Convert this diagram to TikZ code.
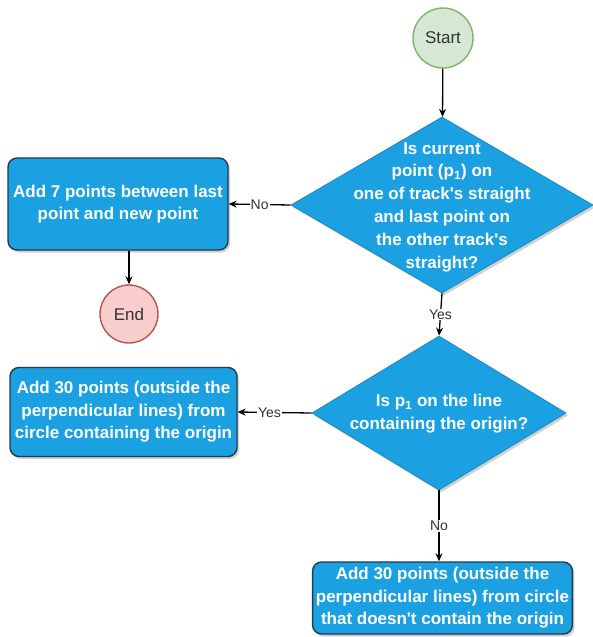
\documentclass[tikz,border=0pt]{standalone}
\usepackage{fontspec}
\setmainfont{Liberation Sans}
\usetikzlibrary{shapes.geometric,arrows.meta,shadows}
\definecolor{procblue}{HTML}{1BA1E2}
\definecolor{procedge}{HTML}{1F3B4D}
\definecolor{startfill}{HTML}{D5E8D4}
\definecolor{startedge}{HTML}{82B366}
\definecolor{endfill}{HTML}{F8CECC}
\definecolor{endedge}{HTML}{B85450}
\definecolor{labeltext}{HTML}{333333}
\tikzset{
  x=1pt, y=-1pt,
  shade/.style={drop shadow={shadow xshift=2pt, shadow yshift=-2.5pt, opacity=0.3, fill=black!60}},
  terminal/.style={circle, line width=1.4pt, minimum size=#1, inner sep=0pt,
    text=labeltext, font=\fontsize{17}{20}\selectfont},
  procbox/.style={rectangle, rounded corners=9pt, fill=procblue, draw=procedge,
    line width=1.4pt, shade, text=white, align=center,
    font=\bfseries\fontsize{17}{22.5}\selectfont},
  decision/.style={diamond, fill=procblue, draw=procblue!85!black, line width=0.8pt,
    shade, inner sep=0pt},
  decisiontext/.style={text=white, align=center, font=\bfseries\fontsize{17}{22.8}\selectfont},
  arr/.style={-{Stealth[length=8pt,width=7pt]}, line width=1.3pt, black},
  edgelabel/.style={fill=white, inner sep=1pt, text=labeltext, font=\fontsize{14}{16}\selectfont}
}
\begin{document}
\begin{tikzpicture}
\useasboundingbox (0,0) rectangle (593,637);
\fill[white] (0,0) rectangle (593,637);

% terminals
\node[terminal=60pt, fill=startfill, draw=startedge] (start) at (443,38) {Start};
\node[terminal=58pt, fill=endfill, draw=endedge] (endc) at (129,314) {End};

% first decision
\node[decision, minimum width=302pt, minimum height=176pt] (d1) at (442,205) {};
\node[decisiontext] at (442,207) {Is current\\point (p\textsubscript{1}) on\\one of track\textquotesingle s straight\\and last point on\\the other track\textquotesingle s\\straight?};

% second decision
\node[decision, minimum width=254pt, minimum height=154pt] (d2) at (439,413) {};
\node[decisiontext] at (439,414) {Is p\textsubscript{1} on the line\\containing the origin?};

% process boxes
\node[procbox, minimum width=220pt, minimum height=92pt] (b1) at (118,204)
  {Add 7 points between last\\point and new point};
\node[procbox, minimum width=227pt, minimum height=89pt] (b2) at (123.5,412)
  {Add 30 points (outside the\\perpendicular lines) from\\circle containing the origin};
\node[procbox, minimum width=255pt, minimum height=72pt] (b3) at (442.5,598)
  {Add 30 points (outside the\\perpendicular lines) from circle\\that doesn\textquotesingle t contain the origin};

% connectors
\draw[arr] (start) -- (d1);
\draw[arr] (d1.west) -- node[edgelabel] {No} (b1.east);
\draw[arr] (b1.south -| endc) -- (endc);
\draw[arr] (d1.south) -- node[edgelabel] {Yes} (d2.north);
\draw[arr] (d2.west) -- node[edgelabel, pos=0.57] {Yes} (b2.east);
\draw[arr] (d2.south) -- node[edgelabel] {No} (b3.north -| d2.south);
\end{tikzpicture}
\end{document}
